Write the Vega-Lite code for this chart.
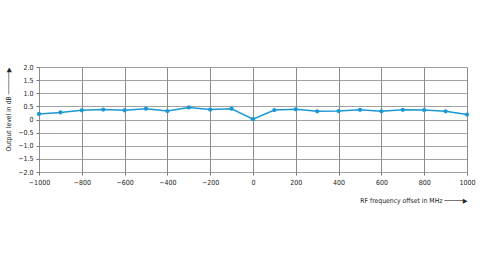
{
  "$schema": "https://vega.github.io/schema/vega-lite/v6.json",
  "autosize": "none",
  "width": 428,
  "height": 105,
  "padding": {"left": 39, "top": 67, "right": 13, "bottom": 98},
  "background": "white",
  "config": {
    "view": {"stroke": null},
    "font": "DejaVu Sans Condensed"
  },
  "data": {
    "values": [
      {"f": -1000, "dB": 0.21},
      {"f": -900, "dB": 0.27},
      {"f": -800, "dB": 0.35},
      {"f": -700, "dB": 0.38},
      {"f": -600, "dB": 0.35},
      {"f": -500, "dB": 0.41},
      {"f": -400, "dB": 0.32},
      {"f": -300, "dB": 0.46},
      {"f": -200, "dB": 0.38},
      {"f": -100, "dB": 0.41},
      {"f": 0, "dB": 0.01},
      {"f": 100, "dB": 0.36},
      {"f": 200, "dB": 0.39},
      {"f": 300, "dB": 0.31},
      {"f": 400, "dB": 0.32},
      {"f": 500, "dB": 0.37},
      {"f": 600, "dB": 0.31},
      {"f": 700, "dB": 0.37},
      {"f": 800, "dB": 0.36},
      {"f": 900, "dB": 0.31},
      {"f": 1000, "dB": 0.19}
    ]
  },
  "mark": {"type": "line", "color": "#1b98d4", "strokeWidth": 1.5, "point": {"filled": true, "size": 18, "color": "#1b98d4"}},
  "encoding": {
    "x": {
      "field": "f",
      "type": "quantitative",
      "scale": {"domain": [-1000, 1000], "nice": false, "zero": false},
      "axis": {
        "values": [-1000, -800, -600, -400, -200, 0, 200, 400, 600, 800, 1000],
        "format": "d",
        "labelFlush": false,
        "labelOverlap": false,
        "labelBound": false,
        "title": "RF frequency offset in MHz \u2500\u2500\u2500\u2500\u2500\u25B6",
        "titleAnchor": "end",
        "titleFont": "DejaVu Sans Condensed",
        "titleFontWeight": "normal",
        "titleFontSize": 6.8,
        "titleColor": "#222",
        "titlePadding": 12,
        "labelFont": "DejaVu Sans Condensed",
        "labelFontSize": 7,
        "labelColor": "#222",
        "labelPadding": 3,
        "tickSize": 3,
        "tickColor": "#777",
        "domain": false,
        "grid": true,
        "gridColor": "#6f6f6f",
        "gridWidth": 0.8
      }
    },
    "y": {
      "field": "dB",
      "type": "quantitative",
      "scale": {"domain": [-2, 2], "nice": false},
      "axis": {
        "values": [-2, -1.5, -1, -0.5, 0, 0.5, 1, 1.5, 2],
        "labelExpr": "datum.value == 0 ? '0' : format(datum.value, '.1f')",
        "labelOverlap": false,
        "labelFlush": false,
        "title": "Output level in dB \u2500\u2500\u2500\u2500\u2500\u2500\u25B6",
        "titleAnchor": "end",
        "titleFont": "DejaVu Sans Condensed",
        "titleFontWeight": "normal",
        "titleFontSize": 6.8,
        "titleColor": "#222",
        "titlePadding": 6,
        "labelFont": "DejaVu Sans Condensed",
        "labelFontSize": 7,
        "labelColor": "#222",
        "labelPadding": 3,
        "tickSize": 3,
        "tickColor": "#777",
        "domain": false,
        "grid": true,
        "gridColor": "#8a8a8a",
        "gridWidth": 0.8
      }
    }
  }
}
